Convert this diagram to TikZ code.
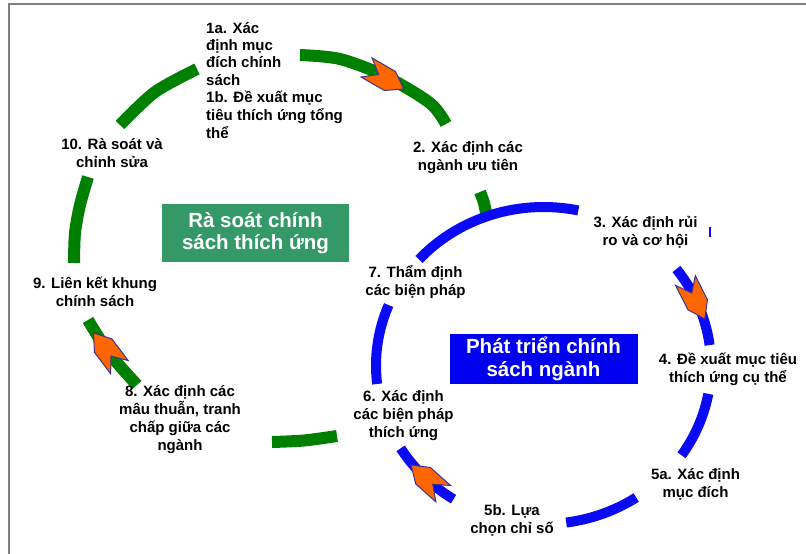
\documentclass[tikz,border=0pt]{standalone}
\usepackage{fontspec}
\setmainfont{Liberation Sans}
\definecolor{garc}{RGB}{0,128,0}
\definecolor{gboxc}{RGB}{51,153,102}
\definecolor{barc}{RGB}{10,10,245}
\definecolor{bboxc}{RGB}{0,0,240}
\definecolor{arrfill}{RGB}{255,102,0}
\definecolor{arrline}{RGB}{60,50,150}
\definecolor{framec}{RGB}{128,128,128}
\newcommand\stkc[2][18pt]{\vtop{\baselineskip=#1\lineskiplimit=-100pt\lineskip=0pt\halign{\hfil##\hfil\cr#2\crcr}}}
\newcommand\stkl[2][18pt]{\vtop{\baselineskip=#1\lineskiplimit=-100pt\lineskip=0pt\halign{##\hfil\cr#2\crcr}}}
\newcommand\chev[3]{\begin{scope}[shift={(#1,#2)}, rotate=#3]
  \filldraw[arrowhd] (-19,-11) -- (8,-11) -- (24,0) -- (8,11) -- (-19,11) -- (-5,0) -- cycle;
\end{scope}}
\tikzset{
  garcst/.style={draw=garc, line width=12pt},
  barcst/.style={draw=barc, line width=10pt},
  arrowhd/.style={fill=arrfill, draw=arrline, line width=1pt, line join=miter},
  lbl/.style={font=\bfseries\fontsize{15}{18}\selectfont, inner sep=0pt, anchor=base, text=black},
  boxlbl/.style={font=\bfseries\fontsize{20.5}{22.5}\selectfont, inner sep=0pt, anchor=base, text=white},
}
\begin{document}
\begin{tikzpicture}[x=1pt,y=-1pt]
\useasboundingbox (0,0) rectangle (806,554);
\fill[white] (0,0) rectangle (806,554);
\draw[framec, line width=2pt] (9,555) -- (9,4) -- (807,4);

% green cycle segments
\draw[garcst] plot[smooth] coordinates {(88,177) (80,205) (75,233) (74,263)};
\draw[garcst] plot[smooth] coordinates {(120,125) (155,92) (197,69)};
\draw[garcst] plot[smooth] coordinates {(300,55) (340,59) (385,76) (430,103) (446,124)};
\draw[garcst] plot[smooth] coordinates {(480,192) (484,203) (487,218)};
\draw[garcst] plot[smooth] coordinates {(272,442) (304,440.5) (337,436)};
\draw[garcst] plot[smooth] coordinates {(137,385) (109,353) (88,320)};

% blue cycle segments
\draw[barcst] plot[domain=-138:-78, samples=40, smooth, variable=\t] ({543.5+167.5*cos(\t)},{365.5+158.5*sin(\t)});
\draw[barcst] plot[domain=-37.5:-7.4, samples=30, smooth, variable=\t] ({543.5+167.5*cos(\t)},{365.5+158.5*sin(\t)});
\draw[barcst] plot[domain=10.3:34.5, samples=30, smooth, variable=\t] ({543.5+167.5*cos(\t)},{365.5+158.5*sin(\t)});
\draw[barcst] plot[domain=56.4:82.2, samples=30, smooth, variable=\t] ({543.5+167.5*cos(\t)},{365.5+158.5*sin(\t)});
\draw[barcst] plot[domain=122.5:148.5, samples=30, smooth, variable=\t] ({543.5+167.5*cos(\t)},{365.5+158.5*sin(\t)});
\draw[barcst] plot[domain=173.3:202.4, samples=30, smooth, variable=\t] ({543.5+167.5*cos(\t)},{365.5+158.5*sin(\t)});
\draw[barc, line width=2.5pt] (710,227) -- (710,237);

% arrowheads
\chev{383}{77}{-30}
\chev{694}{297.5}{-63.3}
\chev{429}{481}{138.3}
\chev{108}{352}{127}

% labels
\node[lbl, anchor=base west] (n1) at (206,33) {\stkl[17.5pt]{1a. Xác\cr định mục\cr đích chính\cr sách\cr 1b. Đề xuất mục\cr tiêu thích ứng tổng\cr thể}};
\node[lbl] (n2) at (468,152) {\stkc{2. Xác định các\cr ngành ưu tiên}};
\node[lbl] (n3) at (645.5,227) {\stkc{3. Xác định rủi\cr ro và cơ hội}};
\node[lbl] (n4) at (728,364) {\stkc{4. Đề xuất mục tiêu\cr thích ứng cụ thể}};
\node[lbl] (n5a) at (695.5,479) {\stkc{5a. Xác định\cr mục đích}};
\node[lbl] (n5b) at (512,515) {\stkc{5b. Lựa\cr chọn chỉ số}};
\node[lbl] (n6) at (403.5,401) {\stkc{6. Xác định\cr các biện pháp\cr thích ứng}};
\node[lbl] (n7) at (415.5,277) {\stkc{7. Thẩm định\cr các biện pháp}};
\node[lbl] (n8) at (180,396) {\stkc{8. Xác định các\cr mâu thuẫn, tranh\cr chấp giữa các\cr ngành}};
\node[lbl] (n9) at (95,288) {\stkc{9. Liên kết khung\cr chính sách}};
\node[lbl] (n10) at (112,149) {\stkc{10. Rà soát và\cr chỉnh sửa}};

% title boxes
\node[fill=gboxc, minimum width=187pt, minimum height=58pt, inner sep=0pt] (rsbox) at (255.5,233) {};
\node[boxlbl] (rstext) at (255.5,227) {\stkc[22pt]{Rà soát chính\cr sách thích ứng}};
\node[fill=bboxc, minimum width=188pt, minimum height=50pt, inner sep=0pt] (ptbox) at (544,359) {};
\node[boxlbl] (pttext) at (543.5,353) {\stkc[23pt]{Phát triển chính\cr sách ngành}};
\end{tikzpicture}
\end{document}
